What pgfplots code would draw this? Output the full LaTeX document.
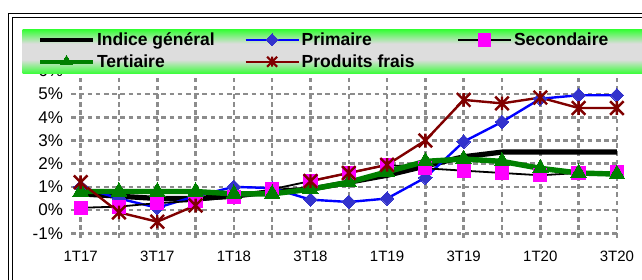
\documentclass[border=0pt]{standalone}
\usepackage{pgfplots}
\pgfplotsset{compat=1.18}
\usepackage{fontspec}
\setmainfont{Liberation Sans}
\definecolor{gridgray}{HTML}{8C8C8C}
\definecolor{dblue}{HTML}{3333CC}
\definecolor{pblue}{HTML}{0000FF}
\definecolor{dred}{HTML}{800000}
\definecolor{dgreen}{HTML}{008000}
\definecolor{mag}{HTML}{FF00FF}
\definecolor{lgreen}{HTML}{33FF33}
\definecolor{lgray}{HTML}{DDDDDD}
\pgfdeclareverticalshading{legshade}{100bp}{color(0bp)=(lgreen); color(25bp)=(lgreen); color(41bp)=(lgray); color(59bp)=(lgray); color(75bp)=(lgreen); color(100bp)=(lgreen)}
\pgfdeclareplotmark{xstar}{%
  \pgfpathmoveto{\pgfqpoint{-\pgfplotmarksize}{-\pgfplotmarksize}}%
  \pgfpathlineto{\pgfqpoint{\pgfplotmarksize}{\pgfplotmarksize}}%
  \pgfpathmoveto{\pgfqpoint{-\pgfplotmarksize}{\pgfplotmarksize}}%
  \pgfpathlineto{\pgfqpoint{\pgfplotmarksize}{-\pgfplotmarksize}}%
  \pgfpathmoveto{\pgfqpoint{0pt}{-\pgfplotmarksize}}%
  \pgfpathlineto{\pgfqpoint{0pt}{\pgfplotmarksize}}%
  \pgfusepathqstroke}
\tikzset{gridline/.style={draw=gridgray, line width=2.5pt, dash pattern=on 4.6pt off 3.6pt}}

\pgfplotstableread{
idx indice primaire secondaire tertiaire frais
0  0.7  1.0  0.1  0.8  1.2
1  0.6  0.5  0.15 0.8 -0.1
2  0.5  0.1  0.3  0.8 -0.5
3  0.5  0.6  0.4  0.8  0.2
4  0.6  1.0  0.55 0.7  nan
5  0.8  0.95 0.9  0.7  nan
6  0.9  0.45 1.25 0.9  1.25
7  1.2  0.35 1.6  1.2  1.6
8  1.5  0.5  1.95 1.65 1.95
9  1.9  1.4  1.8  2.1  3.0
10 2.3  2.95 1.7  2.2  4.75
11 2.5  3.8  1.6  2.1  4.6
12 2.5  4.8  1.5  1.8  4.85
13 2.5  4.95 1.6  1.6  4.4
14 2.5  4.95 1.65 1.55 4.4
}\datatable

\newcommand\LE[1]{\makebox[145.5pt][l]{#1}}
\newcommand\LF[1]{\makebox[153.5pt][l]{#1}}

\begin{document}
\begin{tikzpicture}[x=1pt,y=1pt]
\useasboundingbox (0,0) rectangle (642,280);
\fill[white] (0,0) rectangle (642,280);
% frame
\draw[black,line width=1.4pt] (8.3,-30) rectangle (680,266.7);
\draw[black,line width=1.4pt] (12.3,-30) rectangle (676,262.7);

\begin{axis}[
  at={(71.1pt,46.7pt)}, anchor=south west,
  scale only axis, width=547.7pt, height=162.4pt,
  xmin=-0.25, xmax=14.05, ymin=-1, ymax=6,
  clip=false,
  unbounded coords=jump,
  axis line style={draw=none},
  tick style={draw=none},
  xtick={0,...,14},
  xticklabels={1T17,,3T17,,1T18,,3T18,,1T19,,3T19,,1T20,,3T20},
  ytick={-1,0,1,2,3,4,5,6},
  yticklabels={-1\%,0\%,1\%,2\%,3\%,4\%,5\%,6\%},
  yticklabel style={font=\fontsize{17}{20}\selectfont, anchor=east, inner sep=0pt, xshift=-8pt},
  xticklabel style={font=\fontsize{15}{18}\selectfont, anchor=center, inner sep=0pt, yshift=-23.4pt},
]
\pgfplotsinvokeforeach{-1,0,1,2,3,4,5,6}{\draw[gridline] (axis cs:-0.25,#1) -- (axis cs:14.05,#1);}
\pgfplotsinvokeforeach{0,...,14}{\draw[gridline] (axis cs:#1,-1.2) -- (axis cs:#1,6);}
\addplot[black, line width=5.2pt, no marks] table[x=idx,y=indice] {\datatable};
\addplot[pblue, line width=2.4pt, mark=square*, mark size=4.8pt, mark options={rotate=45, fill=dblue, draw=dblue, line width=0pt}] table[x=idx,y=primaire] {\datatable};
\addplot[black, line width=1.8pt, mark=square*, mark size=6.6pt, mark options={fill=mag, draw=mag, line width=0pt}] table[x=idx,y=secondaire] {\datatable};
\addplot[dgreen, line width=5.4pt, mark=triangle*, mark size=9pt, mark options={fill=dgreen, draw=dgreen, line width=0pt}] table[x=idx,y=tertiaire] {\datatable};
\addplot[dred, line width=2.4pt, mark=xstar, mark size=6.8pt, mark options={line width=2.4pt}] table[x=idx,y=frais] {\datatable};
\end{axis}

% legend background
\shade[shading=legshade] (22.7,206) rectangle (660,250.7);

\begin{axis}[
  at={(71.1pt,46.7pt)}, anchor=south west,
  scale only axis, width=547.7pt, height=162.4pt,
  xmin=0, xmax=14, ymin=-1, ymax=6,
  hide axis,
  legend columns=3,
  legend image code/.code={\draw[mark repeat=2,mark phase=2,#1] plot coordinates {(0pt,0pt) (26.5pt,0pt) (53pt,0pt)};},
  legend style={
    at={(-0.0604,1.248)}, anchor=north west,
    draw=none, fill=none, inner sep=0pt, outer sep=0pt,
    column sep=0pt, row sep=3.7pt,
    font=\fontsize{17.5}{20}\selectfont\bfseries,
    cells={anchor=west},
  },
]
\addlegendimage{black, line width=4pt}
\addlegendentry{\LE{Indice général}}
\addlegendimage{pblue, line width=2.2pt, mark=square*, mark size=4.2pt, mark options={rotate=45, fill=dblue, draw=dblue, line width=0pt}}
\addlegendentry{\LF{Primaire}}
\addlegendimage{black, line width=1.8pt, mark=square*, mark size=6.3pt, mark options={fill=mag, draw=mag, line width=0pt}}
\addlegendentry{Secondaire}
\addlegendimage{dgreen, line width=4pt, mark=triangle*, mark size=6.5pt, mark options={fill=dgreen, draw=dgreen, line width=0pt}}
\addlegendentry{\LE{Tertiaire}}
\addlegendimage{dred, line width=2.2pt, mark=xstar, mark size=5pt, mark options={line width=2.2pt}}
\addlegendentry{\LF{Produits frais}}
\end{axis}
\end{tikzpicture}
\end{document}
